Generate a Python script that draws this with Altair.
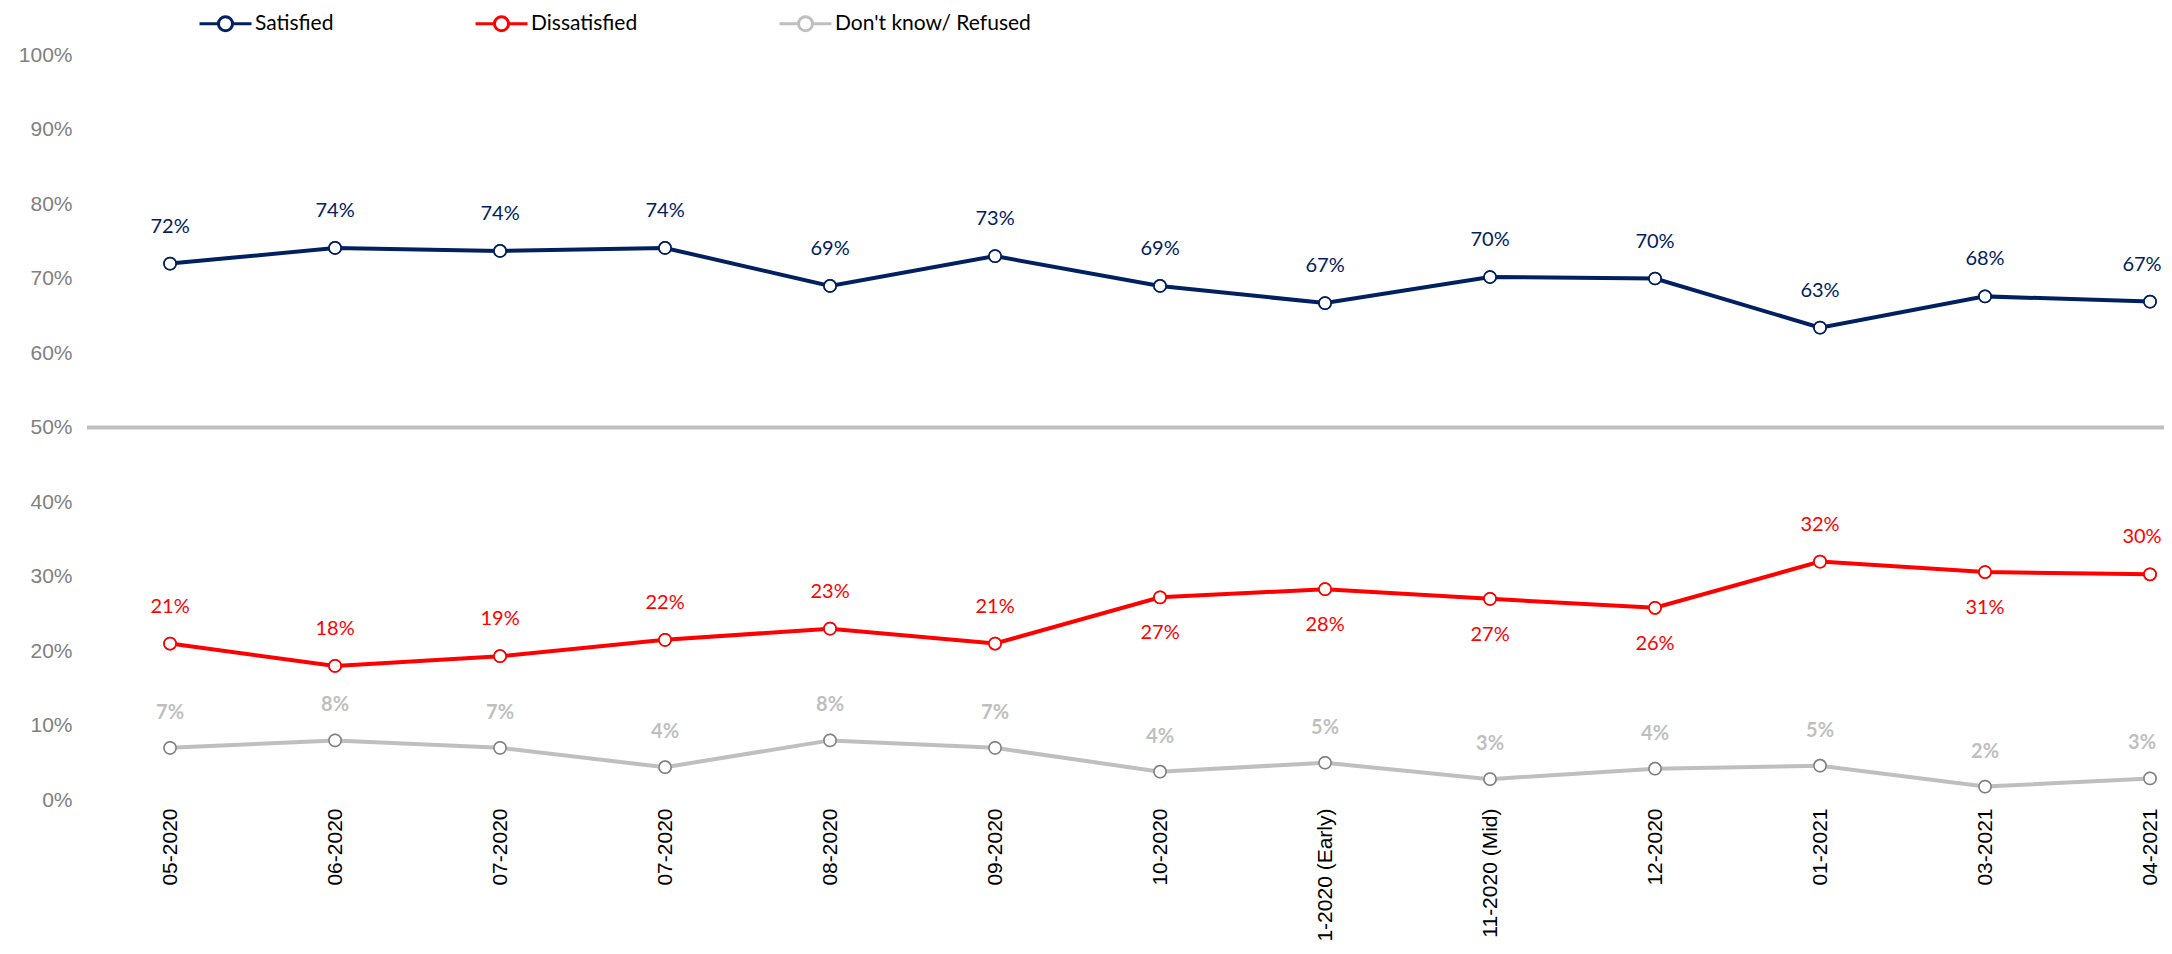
import json
import altair as alt
import pandas as pd

periods = ["05-2020", "06-2020", "07-2020", "07-2020", "08-2020", "09-2020", "10-2020",
           "11-2020 (Early)", "11-2020 (Mid)", "12-2020", "01-2021", "03-2021", "04-2021"]
series_names = ["Satisfied", "Dissatisfied", "Don't know/ Refused"]

satisfied = [72.0, 74.1, 73.7, 74.1, 69.0, 73.0, 69.0, 66.7, 70.2, 70.0, 63.4, 67.6, 66.9]
dissatisfied = [21.0, 18.0, 19.3, 21.5, 23.0, 21.0, 27.2, 28.3, 27.0, 25.8, 32.0, 30.6, 30.3]
dontknow = [7.0, 8.0, 7.0, 4.4, 8.0, 7.0, 3.8, 5.0, 2.8, 4.2, 4.6, 1.8, 2.9]

sat_labels = [72, 74, 74, 74, 69, 73, 69, 67, 70, 70, 63, 68, 67]
dis_labels = [21, 18, 19, 22, 23, 21, 27, 28, 27, 26, 32, 31, 30]
dk_labels = [7, 8, 7, 4, 8, 7, 4, 5, 3, 4, 5, 2, 3]

dis_label_side = ["above"] * 6 + ["below"] * 4 + ["above", "below", "above"]

reference_line = [50]

line_colors = ["#002060", "#ff0000", "#bfbfbf"]
point_strokes = ["#002060", "#ff0000", "#808080"]

rows = []
for i, p in enumerate(periods):
    rows.append(dict(idx=i, series=series_names[0], value=satisfied[i], label=f"{sat_labels[i]}%", side="above"))
    rows.append(dict(idx=i, series=series_names[1], value=dissatisfied[i], label=f"{dis_labels[i]}%", side=dis_label_side[i]))
    rows.append(dict(idx=i, series=series_names[2], value=dontknow[i], label=f"{dk_labels[i]}%", side="above"))
df = pd.DataFrame(rows)

x = alt.X("idx:O",
          scale=alt.Scale(type="point", padding=0.294, align=0.856),
          axis=alt.Axis(title=None, labelAngle=-90, labelExpr=f"{json.dumps(periods)}[datum.value]",
                        domain=False, ticks=False, grid=False, labelPadding=8, labelLimit=0,
                        labelFont="Liberation Sans", labelFontSize=21, labelColor="#000000"))
y = alt.Y("value:Q",
          scale=alt.Scale(domain=[0, 100], nice=False),
          axis=alt.Axis(title=None, values=list(range(0, 101, 10)), labelExpr="datum.value + '%'",
                        domain=False, ticks=False, grid=False, labelPadding=15,
                        labelFont="Liberation Sans", labelFontSize=21, labelColor="#808080"))

legend_path = ("M-1,0L-0.27,0M0.27,0L1,0"
               "M-0.27,0A0.27,0.27,0,1,1,0.27,0A0.27,0.27,0,1,1,-0.27,0Z")

base = alt.Chart(df)

rule = alt.Chart(pd.DataFrame({"value": reference_line})).mark_rule(color="#bfbfbf", strokeWidth=4).encode(y=y)

lines = base.mark_line(strokeWidth=4).encode(
    x=x, y=y,
    color=alt.Color("series:N", sort=series_names,
                    scale=alt.Scale(domain=series_names, range=line_colors), legend=None))

points = base.mark_point(filled=True, fill="white", size=150, strokeWidth=1.5, opacity=1).encode(
    x=x, y=y,
    stroke=alt.Stroke("series:N", sort=series_names,
                      scale=alt.Scale(domain=series_names, range=line_colors),
                      legend=alt.Legend(orient="none", legendX=111, legendY=-59, direction="horizontal",
                                        title=None, symbolType=legend_path, symbolSize=2704,
                                        symbolStrokeWidth=3, symbolFillColor="white",
                                        labelFont="Lato", labelFontSize=21, labelColor="#000000",
                                        labelLimit=0, columnPadding=135, labelOffset=2)))

points_outline = base.mark_point(filled=False, size=150, strokeWidth=1.5, opacity=1).encode(
    x=x, y=y,
    color=alt.Color("series:N", sort=series_names,
                    scale=alt.Scale(domain=series_names, range=point_strokes), legend=None))

text_fill = alt.Fill("series:N", scale=alt.Scale(domain=series_names, range=line_colors), legend=None)
edge_dx = alt.expr(f"datum.idx == {len(periods) - 1} ? -8 : 0")

text_above = base.transform_filter(
    (alt.datum.side == "above") & (alt.datum.series != series_names[2])
).mark_text(font="Lato", fontSize=20, dy=-37, dx=edge_dx, baseline="middle").encode(
    x=x, y=y, text="label:N", fill=text_fill)

text_below = base.transform_filter(
    alt.datum.side == "below"
).mark_text(font="Lato", fontSize=20, dy=36, dx=edge_dx, baseline="middle").encode(
    x=x, y=y, text="label:N", fill=text_fill)

text_dk = base.transform_filter(
    alt.datum.series == series_names[2]
).mark_text(font="Lato", fontSize=20, fontWeight="bold", dy=-35, dx=edge_dx, baseline="middle").encode(
    x=x, y=y, text="label:N", fill=text_fill)

chart = alt.layer(rule, lines, points, points_outline, text_above, text_below, text_dk).resolve_scale(
    color="independent", stroke="independent", fill="independent"
).properties(
    width=2077, height=745,
    padding={"left": 79, "top": 47, "right": 0, "bottom": 140},
    autosize=alt.AutoSizeParams(type="none"),
    background="white",
).configure_view(strokeWidth=0)

chart.save("out.html", embed_options={"renderer": "svg", "actions": False})
